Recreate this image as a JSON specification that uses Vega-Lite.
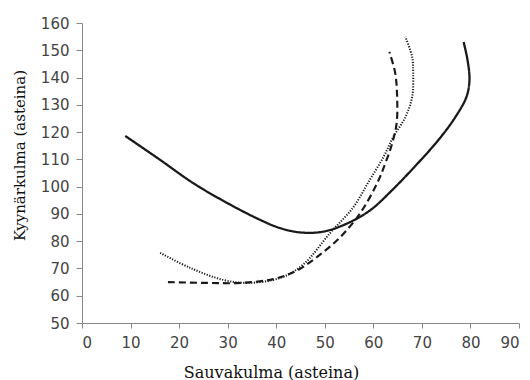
{
  "$schema": "https://vega.github.io/schema/vega-lite/v6.json",
  "width": 437,
  "height": 300,
  "autosize": {"type": "none"},
  "padding": {"left": 82, "top": 23, "right": 11, "bottom": 57},
  "background": "white",
  "config": {"view": {"stroke": null}},
  "data": {
    "values": [
      {"s": "A", "i": 1, "x": 8.9, "y": 118.6},
      {"s": "A", "i": 2, "x": 16.1, "y": 109.8},
      {"s": "A", "i": 3, "x": 22.9, "y": 101.3},
      {"s": "A", "i": 4, "x": 29.9, "y": 94.0},
      {"s": "A", "i": 5, "x": 36.7, "y": 87.8},
      {"s": "A", "i": 6, "x": 40.8, "y": 84.8},
      {"s": "A", "i": 7, "x": 45.0, "y": 83.2},
      {"s": "A", "i": 8, "x": 49.7, "y": 83.5},
      {"s": "A", "i": 9, "x": 54.6, "y": 86.5},
      {"s": "A", "i": 10, "x": 59.4, "y": 91.4},
      {"s": "A", "i": 11, "x": 63.8, "y": 98.6},
      {"s": "A", "i": 12, "x": 68.5, "y": 107.3},
      {"s": "A", "i": 13, "x": 73.5, "y": 117.3},
      {"s": "A", "i": 14, "x": 77.0, "y": 125.8},
      {"s": "A", "i": 15, "x": 79.2, "y": 133.0},
      {"s": "A", "i": 16, "x": 79.8, "y": 139.1},
      {"s": "A", "i": 17, "x": 79.4, "y": 146.4},
      {"s": "A", "i": 18, "x": 78.6, "y": 153.0},
      {"s": "B", "i": 1, "x": 17.7, "y": 65.0},
      {"s": "B", "i": 2, "x": 25.8, "y": 64.7},
      {"s": "B", "i": 3, "x": 32.6, "y": 64.7},
      {"s": "B", "i": 4, "x": 39.4, "y": 66.1},
      {"s": "B", "i": 5, "x": 44.0, "y": 69.0},
      {"s": "B", "i": 6, "x": 48.4, "y": 74.2},
      {"s": "B", "i": 7, "x": 53.2, "y": 81.5},
      {"s": "B", "i": 8, "x": 57.3, "y": 90.3},
      {"s": "B", "i": 9, "x": 60.8, "y": 101.3},
      {"s": "B", "i": 10, "x": 62.5, "y": 108.7},
      {"s": "B", "i": 11, "x": 63.9, "y": 116.0},
      {"s": "B", "i": 12, "x": 64.8, "y": 123.3},
      {"s": "B", "i": 13, "x": 64.9, "y": 132.9},
      {"s": "B", "i": 14, "x": 64.5, "y": 141.7},
      {"s": "B", "i": 15, "x": 63.3, "y": 149.4},
      {"s": "C", "i": 1, "x": 16.1, "y": 75.7},
      {"s": "C", "i": 2, "x": 22.3, "y": 70.2},
      {"s": "C", "i": 3, "x": 29.1, "y": 65.8},
      {"s": "C", "i": 4, "x": 34.0, "y": 64.7},
      {"s": "C", "i": 5, "x": 40.8, "y": 66.5},
      {"s": "C", "i": 6, "x": 45.6, "y": 71.5},
      {"s": "C", "i": 7, "x": 51.1, "y": 83.0},
      {"s": "C", "i": 8, "x": 55.9, "y": 92.5},
      {"s": "C", "i": 9, "x": 59.0, "y": 101.7},
      {"s": "C", "i": 10, "x": 62.1, "y": 110.9},
      {"s": "C", "i": 11, "x": 64.1, "y": 118.2},
      {"s": "C", "i": 12, "x": 66.6, "y": 125.5},
      {"s": "C", "i": 13, "x": 68.0, "y": 132.9},
      {"s": "C", "i": 14, "x": 68.2, "y": 141.7},
      {"s": "C", "i": 15, "x": 68.0, "y": 147.5},
      {"s": "C", "i": 16, "x": 66.6, "y": 154.9}
    ]
  },
  "mark": {"type": "line", "interpolate": "catmull-rom", "color": "#1a1a1a", "clip": false},
  "encoding": {
    "x": {
      "field": "x", "type": "quantitative",
      "scale": {"domain": [0, 90], "nice": false, "zero": false},
      "axis": {
        "values": [0, 10, 20, 30, 40, 50, 60, 70, 80, 90],
        "title": "Sauvakulma (asteina)",
        "titleFont": "DejaVu Serif", "titleFontSize": 16, "titleFontWeight": "normal",
        "titleColor": "#111", "titleX": 189, "titleY": 49, "titleBaseline": "middle",
        "labelFont": "DejaVu Sans", "labelFontSize": 15, "labelColor": "#444",
        "domainColor": "#888", "tickColor": "#888", "tickSize": 5, "labelPadding": 7,
        "grid": false
      }
    },
    "y": {
      "field": "y", "type": "quantitative",
      "scale": {"domain": [50, 160], "nice": false, "zero": false},
      "axis": {
        "values": [50, 60, 70, 80, 90, 100, 110, 120, 130, 140, 150, 160],
        "title": "Kyynärkulma (asteina)",
        "titleFont": "DejaVu Serif", "titleFontSize": 15, "titleFontWeight": "normal",
        "titleColor": "#111", "titleX": -63, "titleY": 132, "titleBaseline": "middle",
        "labelFont": "DejaVu Sans", "labelFontSize": 15, "labelColor": "#444",
        "domainColor": "#888", "tickColor": "#888", "tickSize": 6, "labelPadding": 7,
        "grid": false
      }
    },
    "order": {"field": "i", "type": "quantitative"},
    "detail": {"field": "s"},
    "strokeDash": {
      "field": "s", "type": "nominal",
      "scale": {"domain": ["A", "B", "C"], "range": [[1, 0], [7, 4], [1.2, 1.5]]},
      "legend": null
    },
    "strokeWidth": {
      "field": "s", "type": "nominal",
      "scale": {"domain": ["A", "B", "C"], "range": [2.3, 2, 1.3]},
      "legend": null
    }
  }
}
